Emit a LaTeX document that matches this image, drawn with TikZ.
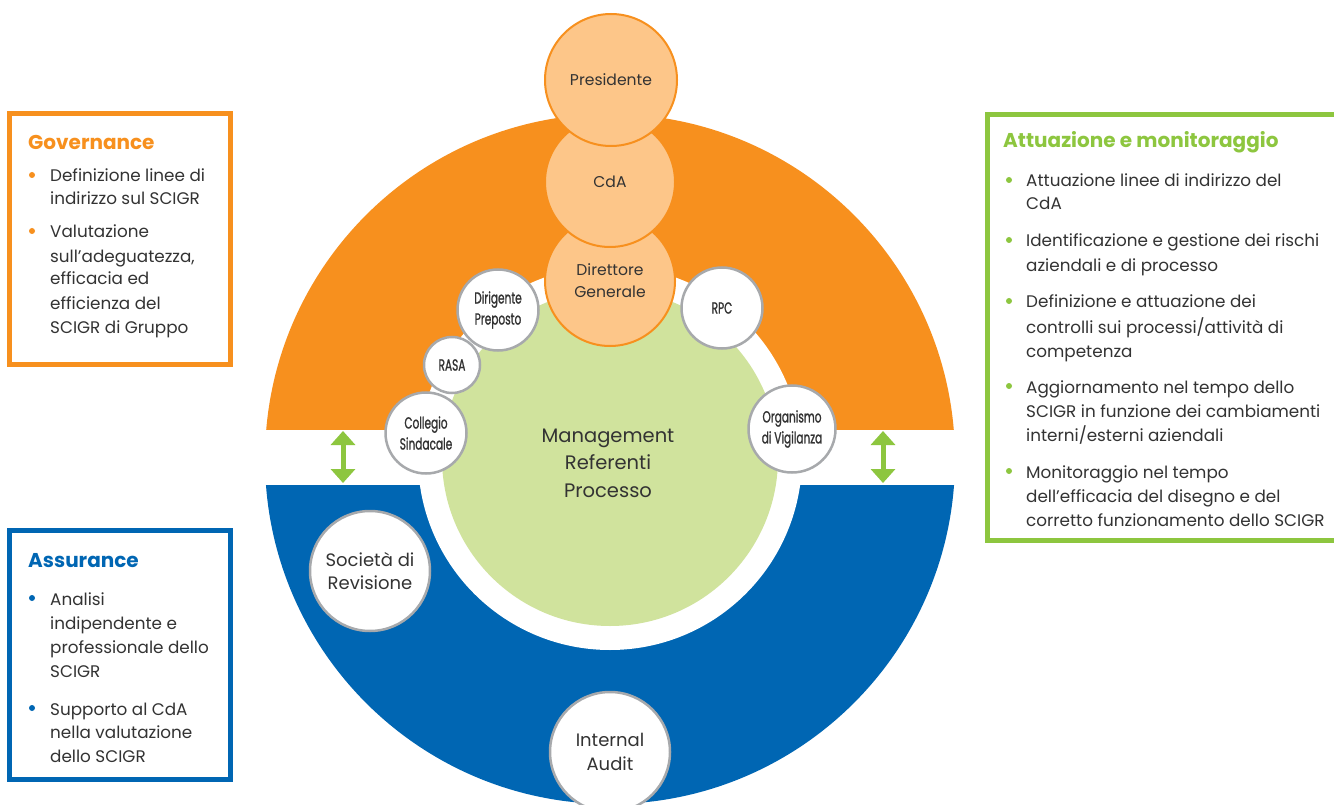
\documentclass[tikz,border=0pt]{standalone}
\usepackage{fontspec}
\setmainfont{Poppins}
\newfontfamily\condfont[FakeStretch=0.66,FakeBold=1.2]{Poppins}
\usetikzlibrary{arrows.meta}
\definecolor{orng}{HTML}{F7901E}
\definecolor{lorng}{HTML}{FDC689}
\definecolor{blu}{HTML}{0066B3}
\definecolor{lgrn}{HTML}{D0E39D}
\definecolor{grn}{HTML}{8DC63F}
\definecolor{txt}{HTML}{333333}
\definecolor{ringgray}{HTML}{A7A9AC}
\tikzset{
  body/.style={anchor=base west, text=txt, font=\fontsize{16.8}{19}\selectfont, inner sep=0pt},
  ttl/.style={anchor=base west, font=\bfseries\fontsize{20}{24}\selectfont, inner sep=0pt},
  bdot/.style={circle, inner sep=0pt, minimum size=6pt},
  oc/.style={circle, draw=orng, fill=lorng, line width=2pt, inner sep=0pt, text=txt, align=center},
  wc/.style={circle, draw=ringgray, fill=white, line width=2.5pt, inner sep=0pt, text=txt, align=center},
  small/.style={font=\condfont\fontsize{16}{21}\selectfont},
  dbl/.style={grn, line width=5pt, {Triangle[width=24pt,length=14pt]}-{Triangle[width=24pt,length=14pt]}},
  boxline/.style={line width=5pt}
}
\begin{document}
\begin{tikzpicture}[x=1pt,y=-1pt]
\useasboundingbox (0,0) rectangle (1334,805);
\clip (0,0) rectangle (1334,805);
\fill[white] (0,0) rectangle (1334,805);
% big ring halves
\begin{scope}
  \clip (0,0) rectangle (1334,429);
  \fill[orng] (610,459) circle[radius=345pt];
\end{scope}
\begin{scope}
  \clip (0,485) rectangle (1334,805);
  \fill[blu] (610,459) circle[radius=345pt];
\end{scope}
\fill[white] (610,458) circle[radius=192pt];
\node[circle, fill=lgrn, minimum size=336pt, inner sep=0pt] (mgmt) at (610,458) {};
\node[text=txt, align=center, font=\fontsize{19.5}{27.5}\selectfont] (mgmttext) at (608,463) {Management\\Referenti\\Processo};
% orange stack
\node[oc, minimum size=130pt, font=\fontsize{15.6}{22}\selectfont] (dg) at (610,281) {Direttore\\Generale};
\node[oc, minimum size=130pt, font=\fontsize{15.6}{22}\selectfont] (cda) at (610,182) {CdA};
\node[oc, minimum size=132pt, font=\fontsize{15.6}{22}\selectfont] (pres) at (611,80) {Presidente};
% white circles
\node[wc, small, minimum size=81pt] (dp) at (498,310) {Dirigente\\Preposto};
\node[wc, small, minimum size=56pt] (rasa) at (452,365) {RASA};
\node[wc, small, minimum size=81pt] (cs) at (426,433) {Collegio\\Sindacale};
\node[wc, small, minimum size=81pt] (rpc) at (722,308) {RPC};
\node[wc, small, minimum size=87pt] (odv) at (792,429) {Organismo\\di Vigilanza};
\node[wc, minimum size=120pt, font=\fontsize{18}{23}\selectfont] (sdr) at (370,571) {Società di\\Revisione};
\node[wc, minimum size=120pt, font=\fontsize{18}{24}\selectfont] (ia) at (610,752) {Internal\\Audit};
% arrows
\coordinate (la1) at (343,431);
\coordinate (la2) at (343,483);
\coordinate (ra1) at (883,431);
\coordinate (ra2) at (883,483);
\draw[dbl] (la1) -- (la2);
\draw[dbl] (ra1) -- (ra2);
% Governance box
\draw[orng, boxline] (9.5,113.5) rectangle (230.5,364.5);
\node[ttl, text=orng] (gt) at (28,150) {Governance};
\node[bdot, fill=orng] (gb1) at (32,175) {};
\node[body] (g1) at (50,182) {Definizione linee di};
\node[body] (g2) at (50,205) {indirizzo sul SCIGR};
\node[bdot, fill=orng] (gb2) at (32,231) {};
\node[body] (g3) at (50,238) {Valutazione};
\node[body] (g4) at (50,262) {sull’adeguatezza,};
\node[body] (g5) at (50,285) {efficacia ed};
\node[body] (g6) at (50,309) {efficienza del};
\node[body] (g7) at (50,333) {SCIGR di Gruppo};
% Assurance box
\draw[blu, boxline] (9.5,530.5) rectangle (230.5,779.5);
\node[ttl, text=blu] (at) at (28,567) {Assurance};
\node[bdot, fill=blu] (ab1) at (32,598) {};
\node[body] (a1) at (50,605) {Analisi};
\node[body] (a2) at (50,629) {indipendente e};
\node[body] (a3) at (50,653) {professionale dello};
\node[body] (a4) at (50,677) {SCIGR};
\node[bdot, fill=blu] (ab2) at (32,708) {};
\node[body] (a5) at (50,715) {Supporto al CdA};
\node[body] (a6) at (50,738) {nella valutazione};
\node[body] (a7) at (50,762) {dello SCIGR};
% Attuazione box
\draw[grn, boxline] (987.5,114.5) rectangle (1345,540.5);
\node[ttl, text=grn] (mt) at (1003,148) {Attuazione e monitoraggio};
\node[bdot, fill=grn] (mb1) at (1009,180) {};
\node[body] (m1) at (1026,187) {Attuazione linee di indirizzo del};
\node[body] (m2) at (1026,210) {CdA};
\node[bdot, fill=grn] (mb2) at (1009,240) {};
\node[body] (m3) at (1026,247) {Identificazione e gestione dei rischi};
\node[body] (m4) at (1026,272) {aziendali e di processo};
\node[bdot, fill=grn] (mb3) at (1009,301) {};
\node[body] (m5) at (1026,308) {Definizione e attuazione dei};
\node[body] (m6) at (1026,333) {controlli sui processi/attività di};
\node[body] (m7) at (1026,357) {competenza};
\node[bdot, fill=grn] (mb4) at (1009,386) {};
\node[body] (m8) at (1026,393) {Aggiornamento nel tempo dello};
\node[body] (m9) at (1026,417) {SCIGR in funzione dei cambiamenti};
\node[body] (m10) at (1026,441) {interni/esterni aziendali};
\node[bdot, fill=grn] (mb5) at (1009,471) {};
\node[body] (m11) at (1026,478) {Monitoraggio nel tempo};
\node[body] (m12) at (1026,502) {dell’efficacia del disegno e del};
\node[body] (m13) at (1026,526) {corretto funzionamento dello SCIGR};
\end{tikzpicture}
\end{document}
